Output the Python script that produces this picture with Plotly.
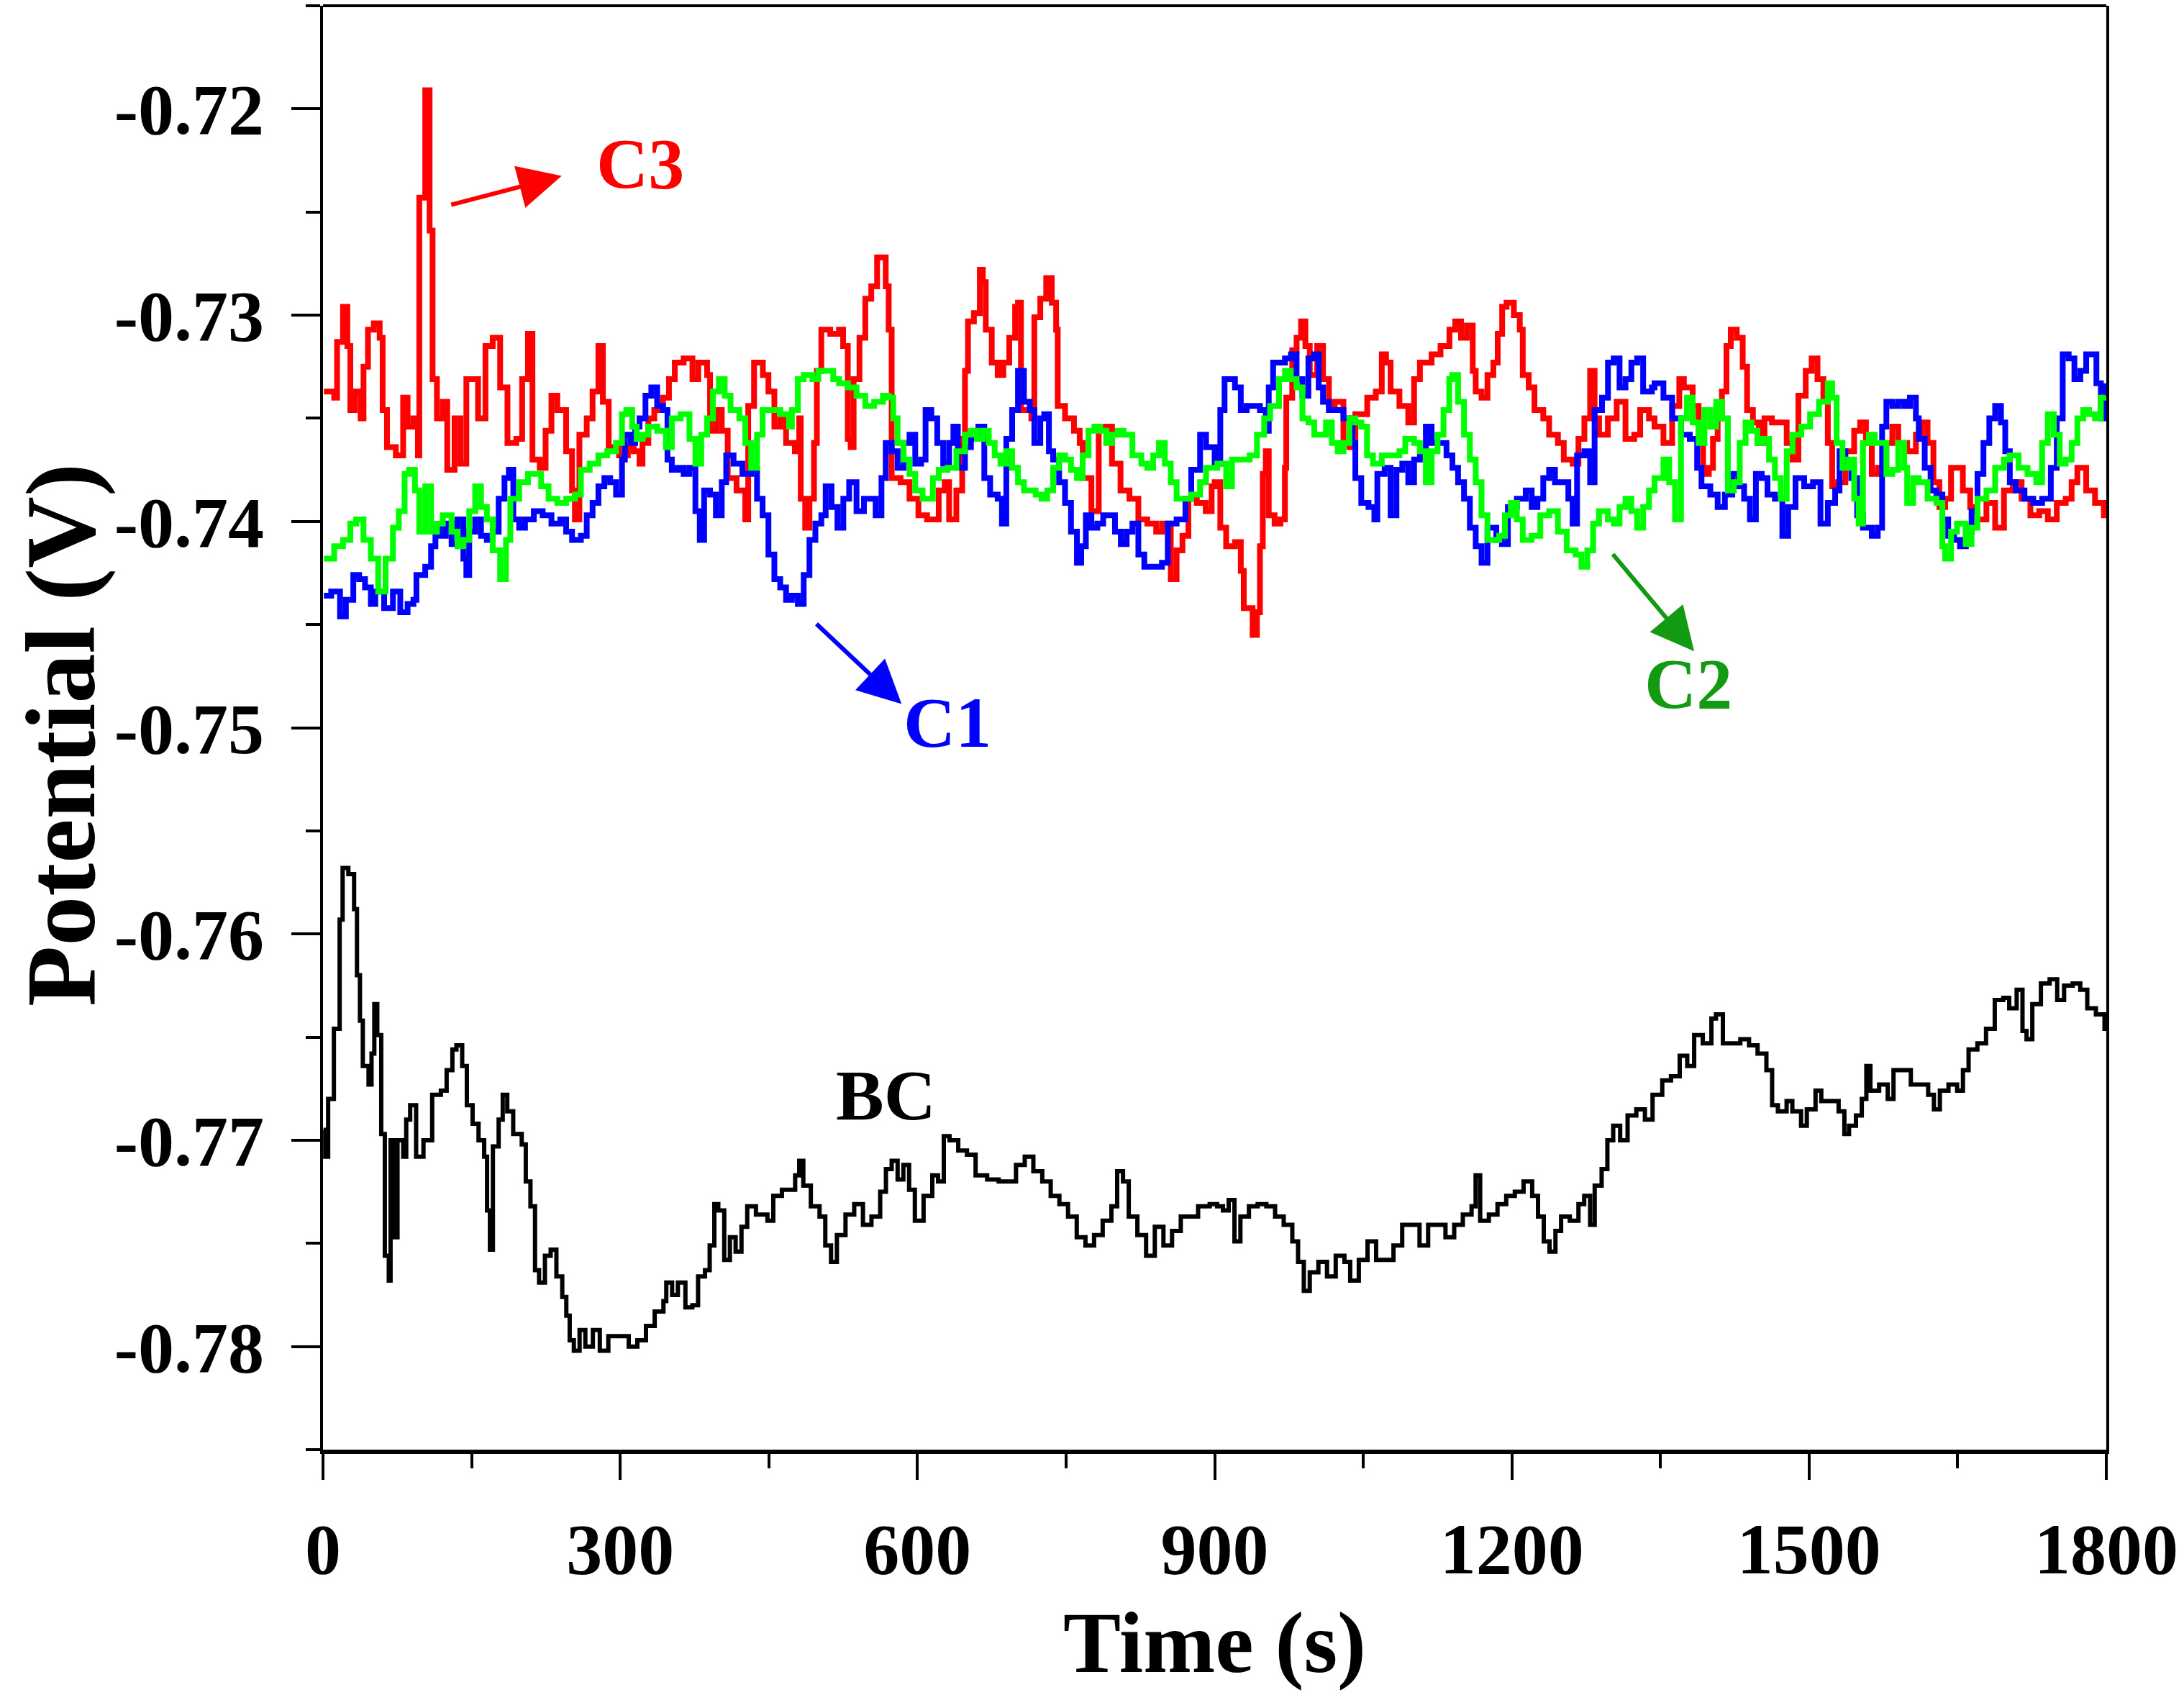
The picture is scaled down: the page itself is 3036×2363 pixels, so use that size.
import plotly.graph_objects as go

# ---------------- data ----------------
c3_t = [0.9,11.3,14.2,20.2,24.6,27.6,32.0,38.0,40.9,45.4,51.3,57.2,60.2,64.6,73.5,80.9,85.4,91.3,95.8,97.2,103.2,106.1,107.6,110.6,115.0,121.0,125.4,132.8,138.7,144.7,150.6,156.5,164.0,171.3,178.8,186.2,195.1,201.0,206.9,211.4,218.8,224.7,230.6,236.5,245.4,251.4,254.3,258.8,266.2,272.1,278.0,282.5,288.4,298.8,307.7,313.6,319.5,322.5,328.4,334.4,343.2,349.2,355.1,364.0,372.9,378.8,387.7,390.7,396.6,402.5,408.5,417.4,426.2,429.2,435.1,444.0,
        449.6,455.6,461.5,467.4,476.3,480.7,482.2,486.7,491.0,495.6,498.5,503.0,512.0,520.8,525.0,529.7,532.6,535.6,541.5,547.4,553.4,559.3,565.2,568.0,571.0,574.0,583.0,592.0,601.0,609.7,615.6,621.5,627.5,632.0,639.3,645.2,648.0,651.0,657.0,663.0,666.0,669.0,675.0,681.0,686.7,692.7,698.6,701.5,704.5,710.0,715.0,718.0,724.0,730.0,735.6,740.0,741.6,749.0,758.0,763.8,766.8,775.6,783.0,790.5,796.4,805.0,814.0,823.0,832.0,841.0,847.0,855.7,861.6,867.5,873.5,882.0,891.0,897.0,
        900.0,905.7,911.6,920.5,926.4,929.4,938.3,942.7,945.7,948.6,951.6,954.6,960.5,966.4,970.9,972.3,978.3,982.7,987.2,991.6,996.0,1003.5,1009.4,1015.3,1021.2,1030.0,1036.0,1042.0,1054.0,1062.7,1068.7,1073.0,1077.6,1086.5,1095.4,1101.3,1107.2,1119.0,1128.0,1137.0,1142.8,1148.7,1154.6,1160.5,1163.5,1169.4,1175.4,1181.3,1185.7,1190.2,1194.6,1202.0,1208.0,1211.0,1217.0,1222.8,1231.7,1237.6,1246.5,1252.4,1261.3,1267.2,1273.2,1279.0,1283.5,1288.0,1296.9,1305.8,1314.7,1323.5,1329.5,1338.4,
        1344.0,1353.0,1361.8,1369.0,1373.6,1382.5,1388.5,1393.0,1398.8,1403.0,1407.7,1412.0,1416.6,1421.0,1427.0,1433.0,1437.4,1443.3,1449.2,1455.0,1462.5,1471.4,1477.4,1483.3,1489.2,1496.6,1502.6,1508.5,1514.4,1518.9,1523.3,1529.2,1536.6,1545.5,1551.5,1557.4,1563.3,1569.3,1578.0,1584.0,1590.0,1599.0,1607.8,1613.7,1619.6,1625.5,1631.5,1637.4,1643.3,1649.3,1655.2,1662.6,1670.0,1679.0,1687.8,1696.7,1705.6,1714.5,1723.4,1732.3,1741.0,1750.0,1759.0,1765.0,1770.8,1779.7,1788.6,1797.5,1800.0]
c3_v = [-0.7337,-0.7340,-0.7313,-0.7296,-0.7315,-0.7346,-0.7337,-0.7350,-0.7325,-0.7307,-0.7304,-0.7311,-0.7346,-0.7364,-0.7368,-0.7340,-0.7354,-0.7350,-0.7368,-0.7243,-0.7191,-0.7191,-0.7259,-0.7331,-0.7350,-0.7342,-0.7375,-0.7350,-0.7372,-0.7331,-0.7331,-0.7350,-0.7315,-0.7311,-0.7335,-0.7362,-0.7360,-0.7331,-0.7309,-0.7370,-0.7374,-0.7356,-0.7339,-0.7346,-0.7366,-0.7385,-0.7399,-0.7358,-0.7350,-0.7337,-0.7315,-0.7342,-0.7364,-0.7368,-0.7364,-0.7366,-0.7372,-0.7362,-0.7350,-0.7346,-0.7340,-0.7331,-0.7323,-0.7321,-0.7331,-0.7323,-0.7329,-0.7356,-0.7346,-0.7356,-0.7379,-0.7385,-0.7399,-0.7344,-0.7323,-0.7329,
        -0.7337,-0.7354,-0.7350,-0.7362,-0.7366,-0.7350,-0.7389,-0.7403,-0.7389,-0.7362,-0.7327,-0.7307,-0.7309,-0.7307,-0.7315,-0.7360,-0.7364,-0.7331,-0.7311,-0.7292,-0.7286,-0.7272,-0.7272,-0.7286,-0.7307,-0.7379,-0.7381,-0.7389,-0.7397,-0.7399,-0.7399,-0.7385,-0.7381,-0.7399,-0.7385,-0.7360,-0.7327,-0.7303,-0.7299,-0.7278,-0.7284,-0.7307,-0.7323,-0.7329,-0.7323,-0.7311,-0.7296,-0.7294,-0.7346,-0.7346,-0.7350,-0.7301,-0.7292,-0.7282,-0.7294,-0.7307,-0.7344,-0.7350,-0.7356,-0.7362,-0.7379,-0.7395,-0.7354,-0.7354,-0.7372,-0.7385,-0.7389,-0.7399,-0.7401,-0.7405,-0.7401,-0.7428,-0.7414,-0.7407,-0.7389,-0.7391,-0.7395,-0.7383,
        -0.7381,-0.7403,-0.7412,-0.7410,-0.7424,-0.7442,-0.7455,-0.7444,-0.7412,-0.7377,-0.7366,-0.7397,-0.7401,-0.7399,-0.7374,-0.7340,-0.7317,-0.7311,-0.7303,-0.7315,-0.7329,-0.7315,-0.7331,-0.7344,-0.7342,-0.7362,-0.7364,-0.7348,-0.7340,-0.7337,-0.7319,-0.7323,-0.7337,-0.7344,-0.7352,-0.7331,-0.7323,-0.7319,-0.7315,-0.7307,-0.7303,-0.7311,-0.7305,-0.7327,-0.7337,-0.7340,-0.7329,-0.7323,-0.7309,-0.7296,-0.7294,-0.7300,-0.7307,-0.7329,-0.7335,-0.7346,-0.7350,-0.7358,-0.7362,-0.7370,-0.7372,-0.7360,-0.7350,-0.7327,-0.7350,-0.7358,-0.7350,-0.7342,-0.7360,-0.7358,-0.7346,-0.7350,
        -0.7354,-0.7362,-0.7344,-0.7331,-0.7335,-0.7344,-0.7360,-0.7377,-0.7374,-0.7360,-0.7350,-0.7337,-0.7315,-0.7307,-0.7311,-0.7325,-0.7346,-0.7352,-0.7362,-0.7350,-0.7352,-0.7352,-0.7362,-0.7370,-0.7339,-0.7327,-0.7321,-0.7331,-0.7340,-0.7362,-0.7383,-0.7381,-0.7366,-0.7356,-0.7352,-0.7362,-0.7377,-0.7374,-0.7362,-0.7354,-0.7362,-0.7366,-0.7358,-0.7352,-0.7362,-0.7381,-0.7393,-0.7389,-0.7374,-0.7374,-0.7385,-0.7393,-0.7399,-0.7391,-0.7403,-0.7385,-0.7381,-0.7389,-0.7397,-0.7395,-0.7399,-0.7391,-0.7389,-0.7381,-0.7374,-0.7385,-0.7391,-0.7397,-0.7395]

c1_t = [0.9,8.3,17.2,23.1,30.6,36.5,42.4,48.3,52.8,61.7,70.6,78.0,85.4,91.3,94.3,103.2,109.1,113.5,118.0,123.9,129.8,135.8,141.7,144.7,147.6,153.6,159.5,165.4,171.3,177.3,183.2,187.6,192.1,198.0,203.9,212.8,221.7,230.6,239.5,245.4,251.4,260.3,266.2,272.1,278.0,284.0,289.9,295.8,301.8,304.7,310.7,315.1,319.5,325.5,331.4,337.3,343.2,347.7,352.1,358.1,364.0,369.9,375.9,380.3,384.7,390.7,396.6,402.5,407.0,414.4,423.3,432.2,438.1,
        443.7,449.6,455.6,461.5,467.4,473.3,479.3,485.2,491.0,497.0,503.0,507.4,513.3,519.3,525.2,531.1,538.5,546.0,552.0,557.8,563.7,568.0,574.0,580.0,586.0,592.0,597.8,603.7,608.2,614.0,620.0,626.0,632.0,636.3,640.8,648.0,654.0,661.5,667.5,673.4,681.0,685.3,689.7,695.6,701.5,707.5,713.4,718.0,724.0,728.0,732.7,737.0,743.0,749.0,755.0,761.0,765.3,770.0,775.6,781.6,787.5,793.4,799.4,805.3,811.2,817.0,823.0,829.0,838.0,846.8,852.7,861.6,870.5,876.4,885.3,891.3,
        900.0,905.7,910.0,914.5,920.5,926.4,932.3,938.3,945.7,951.6,954.6,959.0,965.0,971.0,977.0,982.7,988.6,994.6,1000.5,1005.0,1009.4,1015.3,1021.2,1030.0,1039.0,1042.0,1048.0,1055.3,1061.2,1064.2,1071.6,1077.6,1083.5,1089.4,1095.4,1101.3,1107.2,1113.2,1119.0,1128.0,1134.0,1140.0,1145.7,1151.7,1157.6,1163.5,1169.4,1175.4,1184.3,1190.0,1196.0,1205.0,1214.0,1220.0,1225.8,1231.7,1237.6,1243.5,1252.4,1257.0,1261.3,1265.8,1273.2,1279.0,1283.5,1291.0,1297.0,1302.8,1308.7,1314.7,1320.6,1326.5,1332.5,1341.3,
        1344.0,1353.0,1361.8,1370.7,1379.6,1387.0,1391.4,1400.3,1407.7,1415.0,1422.5,1428.5,1434.4,1440.3,1446.3,1452.2,1458.0,1465.5,1473.0,1478.9,1486.3,1495.0,1504.0,1511.5,1518.9,1526.3,1530.7,1536.6,1542.6,1548.5,1554.4,1563.3,1569.3,1573.7,1578.0,1584.0,1590.0,1596.0,1601.8,1607.8,1610.7,1616.7,1622.6,1628.5,1634.5,1640.4,1646.3,1652.3,1658.2,1664.0,1670.0,1676.0,1681.9,1687.8,1693.7,1698.0,1702.6,1708.5,1717.4,1726.3,1735.2,1744.0,1750.0,1756.0,1762.0,1767.8,1773.8,1779.7,1785.6,1790.0,1794.5,1799.0]
c1_v = [-0.7436,-0.7434,-0.7446,-0.7438,-0.7426,-0.7428,-0.7432,-0.7440,-0.7434,-0.7442,-0.7434,-0.7444,-0.7440,-0.7438,-0.7426,-0.7422,-0.7412,-0.7403,-0.7407,-0.7401,-0.7411,-0.7399,-0.7418,-0.7426,-0.7405,-0.7399,-0.7407,-0.7409,-0.7405,-0.7389,-0.7379,-0.7375,-0.7399,-0.7403,-0.7399,-0.7395,-0.7397,-0.7401,-0.7399,-0.7405,-0.7409,-0.7407,-0.7397,-0.7391,-0.7383,-0.7379,-0.7381,-0.7387,-0.7370,-0.7358,-0.7362,-0.7354,-0.7350,-0.7339,-0.7335,-0.7344,-0.7346,-0.7370,-0.7375,-0.7374,-0.7377,-0.7374,-0.7395,-0.7409,-0.7385,-0.7387,-0.7397,-0.7381,-0.7368,-0.7372,-0.7377,-0.7375,-0.7389,
        -0.7397,-0.7416,-0.7428,-0.7432,-0.7438,-0.7436,-0.7440,-0.7426,-0.7409,-0.7401,-0.7397,-0.7383,-0.7393,-0.7403,-0.7389,-0.7381,-0.7395,-0.7389,-0.7389,-0.7397,-0.7379,-0.7362,-0.7366,-0.7374,-0.7362,-0.7358,-0.7372,-0.7370,-0.7346,-0.7350,-0.7362,-0.7372,-0.7362,-0.7354,-0.7374,-0.7364,-0.7360,-0.7354,-0.7379,-0.7387,-0.7389,-0.7401,-0.7360,-0.7346,-0.7327,-0.7342,-0.7346,-0.7362,-0.7350,-0.7348,-0.7366,-0.7370,-0.7381,-0.7391,-0.7405,-0.7420,-0.7412,-0.7397,-0.7403,-0.7401,-0.7397,-0.7397,-0.7405,-0.7411,-0.7405,-0.7401,-0.7416,-0.7422,-0.7422,-0.7420,-0.7401,-0.7399,-0.7389,-0.7375,-0.7358,-0.7364,
        -0.7372,-0.7346,-0.7331,-0.7331,-0.7335,-0.7346,-0.7344,-0.7344,-0.7346,-0.7356,-0.7335,-0.7323,-0.7323,-0.7321,-0.7319,-0.7331,-0.7339,-0.7321,-0.7319,-0.7335,-0.7342,-0.7346,-0.7346,-0.7350,-0.7362,-0.7379,-0.7391,-0.7393,-0.7399,-0.7377,-0.7374,-0.7397,-0.7375,-0.7372,-0.7381,-0.7370,-0.7366,-0.7354,-0.7362,-0.7362,-0.7368,-0.7374,-0.7381,-0.7389,-0.7403,-0.7412,-0.7420,-0.7403,-0.7409,-0.7411,-0.7393,-0.7389,-0.7385,-0.7393,-0.7389,-0.7379,-0.7375,-0.7381,-0.7381,-0.7389,-0.7401,-0.7368,-0.7366,-0.7381,-0.7346,-0.7340,-0.7323,-0.7321,-0.7335,-0.7331,-0.7323,-0.7321,-0.7337,-0.7335,
        -0.7333,-0.7340,-0.7350,-0.7358,-0.7360,-0.7374,-0.7383,-0.7387,-0.7393,-0.7387,-0.7377,-0.7383,-0.7389,-0.7399,-0.7377,-0.7379,-0.7387,-0.7389,-0.7407,-0.7393,-0.7379,-0.7383,-0.7381,-0.7401,-0.7391,-0.7385,-0.7366,-0.7374,-0.7379,-0.7397,-0.7403,-0.7407,-0.7403,-0.7354,-0.7342,-0.7344,-0.7342,-0.7344,-0.7340,-0.7350,-0.7360,-0.7374,-0.7385,-0.7387,-0.7399,-0.7407,-0.7409,-0.7412,-0.7405,-0.7395,-0.7377,-0.7362,-0.7350,-0.7344,-0.7352,-0.7366,-0.7381,-0.7385,-0.7389,-0.7391,-0.7389,-0.7374,-0.7350,-0.7319,-0.7321,-0.7331,-0.7327,-0.7319,-0.7319,-0.7333,-0.7350,-0.7333]

c2_t = [0.9,11.3,20.2,27.6,33.5,40.9,48.3,55.7,63.2,70.6,76.5,82.4,86.9,92.8,97.2,103.2,109.1,115.0,121.0,129.8,135.8,141.7,147.6,153.6,159.5,165.4,171.3,178.8,184.7,189.1,198.0,206.9,214.3,220.2,227.7,236.5,245.4,254.3,260.3,269.2,278.0,286.9,295.8,301.8,306.2,312.1,316.6,322.5,328.4,337.3,346.2,352.1,361.0,369.9,375.9,381.8,387.7,393.6,399.6,405.5,411.4,420.3,426.2,432.2,438.1,
        443.7,452.6,461.5,470.4,473.3,479.3,485.2,494.0,500.0,506.0,515.0,520.8,529.7,538.5,547.4,556.3,565.2,571.0,575.6,580.0,586.0,592.0,597.8,605.2,609.7,615.6,621.5,630.4,639.3,648.0,654.0,660.0,666.0,672.0,678.0,683.8,689.7,695.6,701.5,707.5,713.4,719.3,725.3,731.0,737.0,743.0,749.0,755.0,761.0,766.8,772.7,778.6,784.5,790.5,796.4,802.3,808.2,817.0,826.0,832.0,838.0,843.8,849.7,855.7,861.6,867.5,876.4,885.3,891.3,
        902.7,911.6,917.5,926.4,935.3,942.7,950.0,956.0,965.0,971.0,976.8,982.7,988.6,994.6,1000.5,1006.4,1012.4,1018.3,1024.2,1030.0,1036.0,1042.0,1048.0,1053.8,1059.8,1068.7,1077.6,1086.5,1092.4,1101.3,1107.2,1113.2,1119.0,1125.0,1131.0,1136.8,1139.8,1145.7,1151.7,1157.6,1163.5,1169.4,1175.4,1181.3,1187.2,1193.0,1199.0,1205.0,1211.0,1219.8,1228.7,1237.6,1246.5,1255.4,1264.3,1270.2,1276.2,1282.0,1288.0,1296.9,1302.8,1308.7,1314.7,1320.6,1326.5,1332.5,1338.4,
        1344.0,1353.0,1358.8,1364.7,1370.7,1376.6,1382.5,1388.5,1394.4,1400.3,1406.2,1412.0,1418.0,1424.0,1430.0,1435.9,1441.8,1447.7,1453.7,1459.6,1465.5,1471.4,1477.4,1483.3,1492.2,1501.0,1510.0,1518.9,1523.3,1527.8,1533.7,1539.6,1545.5,1550.0,1554.4,1560.4,1566.3,1572.2,1578.0,1584.0,1590.0,1596.0,1599.0,1605.0,1610.7,1619.6,1628.5,1634.5,1637.4,1643.3,1649.3,1658.2,1664.0,1670.0,1679.0,1687.8,1696.7,1702.6,1711.5,1720.4,1729.3,1735.2,1741.0,1747.0,1753.0,1759.0,1765.0,1770.8,1776.7,1782.6,1788.6,1794.5,1799.0]
c2_v = [-0.7418,-0.7412,-0.7409,-0.7401,-0.7399,-0.7409,-0.7418,-0.7434,-0.7418,-0.7403,-0.7395,-0.7377,-0.7375,-0.7385,-0.7405,-0.7383,-0.7405,-0.7401,-0.7397,-0.7405,-0.7412,-0.7409,-0.7395,-0.7383,-0.7393,-0.7399,-0.7414,-0.7428,-0.7409,-0.7389,-0.7381,-0.7377,-0.7377,-0.7383,-0.7389,-0.7391,-0.7389,-0.7387,-0.7375,-0.7372,-0.7368,-0.7366,-0.7362,-0.7348,-0.7346,-0.7354,-0.7360,-0.7358,-0.7354,-0.7356,-0.7364,-0.7350,-0.7348,-0.7360,-0.7372,-0.7358,-0.7350,-0.7337,-0.7331,-0.7339,-0.7346,-0.7350,-0.7362,-0.7374,-0.7358,
        -0.7346,-0.7346,-0.7348,-0.7354,-0.7346,-0.7331,-0.7329,-0.7331,-0.7327,-0.7327,-0.7331,-0.7333,-0.7335,-0.7339,-0.7344,-0.7342,-0.7339,-0.7340,-0.7350,-0.7362,-0.7370,-0.7377,-0.7385,-0.7389,-0.7389,-0.7379,-0.7375,-0.7374,-0.7366,-0.7358,-0.7356,-0.7360,-0.7356,-0.7362,-0.7368,-0.7372,-0.7366,-0.7374,-0.7381,-0.7385,-0.7385,-0.7387,-0.7389,-0.7385,-0.7374,-0.7368,-0.7370,-0.7375,-0.7379,-0.7368,-0.7356,-0.7354,-0.7356,-0.7362,-0.7358,-0.7356,-0.7358,-0.7368,-0.7372,-0.7374,-0.7368,-0.7362,-0.7372,-0.7381,-0.7389,-0.7389,-0.7387,-0.7381,-0.7374,
        -0.7372,-0.7383,-0.7370,-0.7370,-0.7368,-0.7358,-0.7350,-0.7344,-0.7331,-0.7327,-0.7331,-0.7335,-0.7350,-0.7352,-0.7358,-0.7358,-0.7352,-0.7362,-0.7366,-0.7362,-0.7350,-0.7352,-0.7354,-0.7368,-0.7372,-0.7368,-0.7368,-0.7366,-0.7360,-0.7362,-0.7366,-0.7381,-0.7366,-0.7358,-0.7346,-0.7331,-0.7329,-0.7342,-0.7358,-0.7370,-0.7381,-0.7397,-0.7409,-0.7409,-0.7407,-0.7397,-0.7391,-0.7399,-0.7409,-0.7407,-0.7397,-0.7395,-0.7405,-0.7414,-0.7416,-0.7422,-0.7414,-0.7401,-0.7395,-0.7399,-0.7401,-0.7393,-0.7389,-0.7395,-0.7403,-0.7393,-0.7385,
        -0.7379,-0.7370,-0.7381,-0.7399,-0.7350,-0.7340,-0.7352,-0.7362,-0.7346,-0.7354,-0.7342,-0.7350,-0.7385,-0.7381,-0.7362,-0.7352,-0.7356,-0.7362,-0.7360,-0.7370,-0.7379,-0.7389,-0.7366,-0.7358,-0.7354,-0.7348,-0.7342,-0.7333,-0.7340,-0.7362,-0.7374,-0.7370,-0.7389,-0.7401,-0.7362,-0.7358,-0.7362,-0.7362,-0.7377,-0.7375,-0.7362,-0.7374,-0.7391,-0.7379,-0.7381,-0.7389,-0.7391,-0.7412,-0.7418,-0.7405,-0.7401,-0.7411,-0.7403,-0.7389,-0.7385,-0.7374,-0.7370,-0.7368,-0.7374,-0.7377,-0.7381,-0.7362,-0.7348,-0.7358,-0.7372,-0.7370,-0.7362,-0.7350,-0.7346,-0.7348,-0.7350,-0.7340,-0.7339]

bc_t = [0.5,2.3,5.2,11.0,16.8,19.8,25.6,31.4,34.3,37.3,40.2,46.0,49.0,51.8,54.8,58.8,62.4,66.4,68.2,72.3,75.2,81.0,84.0,88.0,94.0,101.4,110.2,119.0,124.8,130.6,134.7,140.5,145.2,151.0,157.0,162.7,165.6,168.5,171.5,177.3,181.4,186.0,192.0,200.6,204.7,209.4,214.0,218.1,224.0,229.8,235.6,241.5,245.6,249.0,253.2,259.0,264.8,272.4,279.4,288.0,297.0,308.6,317.3,326.0,334.8,343.6,346.5,352.4,358.2,365.8,372.8,378.6,385.6,390.3,395.0,399.0,405.0,410.7,416.5,422.4,428.2,437.0,445.7,448.6,454.5,463.2,470.8,476.6,480.7,484.8,492.4,501.2,507.0,512.8,518.7,527.4,536.2,545.0,553.6,562.4,568.2,574.0,580.0,585.8,591.6,597.4,606.2,615.0,620.8,626.6,632.4,641.2,650.0,658.7,670.4,682.0,690.8,699.5,708.3,717.0,726.0,734.5,743.3,752.0,760.8,769.6,778.3,787.0,795.8,801.6,807.5,813.3,822.0,830.8,839.6,848.3,857.0,865.8,874.6,883.3,895.0,
        902.5,908.4,914.2,920.0,926.0,934.6,943.4,952.2,961.0,969.7,978.4,984.2,990.0,996.0,1004.7,1013.4,1022.2,1031.0,1036.8,1045.5,1054.3,1063.0,1071.8,1080.5,1089.3,1098.0,1106.8,1115.5,1124.3,1133.0,1141.8,1150.5,1159.3,1163.4,1168.0,1176.8,1185.5,1194.3,1203.0,1211.8,1220.5,1226.4,1232.2,1238.0,1244.0,1249.7,1258.5,1267.2,1273.0,1279.0,1283.6,1290.6,1296.4,1302.3,1309.3,1316.8,1325.6,1334.3,1342.0,1351.8,1360.6,1369.4,1377.0,1384.0,1392.7,1401.4,1406.0,1413.0,1421.9,1430.6,1439.4,1448.0,1456.9,1462.7,1468.5,1477.3,1483.1,1491.9,1497.7,1506.5,1512.3,1521.0,1529.8,1535.6,1540.3,1547.3,1553.2,1557.8,1561.9,1570.7,1579.4,1585.2,1594.0,1602.7,1611.5,1620.2,1626.0,1632.0,1640.7,1649.4,1655.3,1661.0,1669.9,1678.6,1687.4,1696.0,1702.0,1709.5,1715.4,1719.5,1725.3,1734.0,1742.8,1750.4,1757.4,1766.1,1773.7,1780.8,1789.5,1798.2]
bc_v = [-0.7695,-0.7708,-0.7680,-0.7646,-0.7593,-0.7568,-0.7571,-0.7588,-0.7620,-0.7642,-0.7664,-0.7673,-0.7658,-0.7634,-0.7649,-0.7697,-0.7756,-0.7768,-0.7700,-0.7747,-0.7700,-0.7708,-0.7690,-0.7683,-0.7708,-0.7700,-0.7678,-0.7676,-0.7666,-0.7656,-0.7654,-0.7664,-0.7683,-0.7692,-0.7700,-0.7708,-0.7734,-0.7753,-0.7703,-0.7690,-0.7678,-0.7686,-0.7697,-0.7702,-0.7720,-0.7732,-0.7763,-0.7769,-0.7756,-0.7753,-0.7766,-0.7776,-0.7785,-0.7797,-0.7802,-0.7792,-0.7800,-0.7792,-0.7802,-0.7795,-0.7795,-0.7800,-0.7797,-0.7790,-0.7783,-0.7778,-0.7769,-0.7775,-0.7769,-0.7781,-0.7780,-0.7766,-0.7763,-0.7751,-0.7731,-0.7734,-0.7758,-0.7747,-0.7754,-0.7742,-0.7732,-0.7736,-0.7736,-0.7739,-0.7727,-0.7724,-0.7724,-0.7717,-0.7710,-0.7722,-0.7732,-0.7737,-0.7751,-0.7759,-0.7746,-0.7736,-0.7731,-0.7741,-0.7737,-0.7725,-0.7714,-0.7710,-0.7719,-0.7712,-0.7724,-0.7739,-0.7727,-0.7717,-0.7720,-0.7698,-0.7700,-0.7705,-0.7707,-0.7717,-0.7719,-0.7720,-0.7720,-0.7712,-0.7708,-0.7715,-0.7720,-0.7727,-0.7731,-0.7737,-0.7747,-0.7751,-0.7746,-0.7739,-0.7732,-0.7715,-0.7720,-0.7737,-0.7746,-0.7756,-0.7742,-0.7751,-0.7744,-0.7737,-0.7737,-0.7732,-0.7731,
        -0.7732,-0.7734,-0.7729,-0.7749,-0.7737,-0.7732,-0.7731,-0.7732,-0.7737,-0.7741,-0.7749,-0.7759,-0.7773,-0.7764,-0.7759,-0.7766,-0.7756,-0.7759,-0.7768,-0.7758,-0.7749,-0.7758,-0.7758,-0.7751,-0.7741,-0.7741,-0.7751,-0.7741,-0.7741,-0.7747,-0.7741,-0.7736,-0.7732,-0.7717,-0.7739,-0.7736,-0.7731,-0.7727,-0.7725,-0.7720,-0.7727,-0.7737,-0.7749,-0.7754,-0.7744,-0.7737,-0.7739,-0.7731,-0.7727,-0.7741,-0.7722,-0.7714,-0.7700,-0.7693,-0.7700,-0.7688,-0.7685,-0.7690,-0.7678,-0.7671,-0.7669,-0.7659,-0.7664,-0.7649,-0.7653,-0.7641,-0.7639,-0.7653,-0.7653,-0.7651,-0.7654,-0.7658,-0.7666,-0.7683,-0.7686,-0.7681,-0.7686,-0.7693,-0.7685,-0.7676,-0.7681,-0.7681,-0.7686,-0.7697,-0.7693,-0.7688,-0.7680,-0.7664,-0.7676,-0.7673,-0.7680,-0.7666,-0.7666,-0.7673,-0.7673,-0.7678,-0.7685,-0.7676,-0.7673,-0.7676,-0.7666,-0.7656,-0.7653,-0.7646,-0.7632,-0.7631,-0.7636,-0.7627,-0.7647,-0.7651,-0.7634,-0.7624,-0.7622,-0.7632,-0.7625,-0.7624,-0.7627,-0.7636,-0.7639,-0.7647]

x_tickvals = [0, 300, 600, 900, 1200, 1500, 1800]
x_ticktext = ["0", "300", "600", "900", "1200", "1500", "1800"]
y_tickvals = [-0.78, -0.77, -0.76, -0.75, -0.74, -0.73, -0.72]
y_ticktext = ["-0.78", "-0.77", "-0.76", "-0.75", "-0.74", "-0.73", "-0.72"]

FONT = "Liberation Serif"

fig = go.Figure()
fig.add_trace(go.Scatter(x=bc_t, y=bc_v, mode="lines", name="BC",
                         line=dict(color="#000000", width=6, shape="hv")))
fig.add_trace(go.Scatter(x=c3_t, y=c3_v, mode="lines", name="C3",
                         line=dict(color="#ff0000", width=8, shape="hv")))
fig.add_trace(go.Scatter(x=c1_t, y=c1_v, mode="lines", name="C1",
                         line=dict(color="#0000ff", width=8, shape="hv")))
fig.add_trace(go.Scatter(x=c2_t, y=c2_v, mode="lines", name="C2",
                         line=dict(color="#00ff00", width=8, shape="hv")))

def label(text, x, y, color):
    fig.add_annotation(x=x, y=y, xref="x", yref="y", text=text, showarrow=False,
                       font=dict(family=FONT, size=100, color=color, weight="bold"),
                       xanchor="center", yanchor="middle")

def arrow(x0, y0, x1, y1, color):
    fig.add_annotation(x=x1, y=y1, ax=x0, ay=y0, xref="x", yref="y", axref="x", ayref="y",
                       text="", showarrow=True, arrowhead=2, arrowsize=2.0, arrowwidth=6,
                       arrowcolor=color, standoff=0, startstandoff=0)

label("C3", 320, -0.72267, "#ff0000")
label("C1", 630, -0.74974, "#0000ff")
label("C2", 1378, -0.74786, "#139a13")
label("BC", 568, -0.76781, "#000000")
arrow(128.3, -0.72466, 240.9, -0.72325, "#ff0000")
arrow(497, -0.74492, 584, -0.74885, "#0000ff")
arrow(1301, -0.74154, 1384, -0.74629, "#139a13")

# axis titles
fig.add_annotation(x=0.5, y=-0.134, xref="paper", yref="paper", text="Time (s)", showarrow=False,
                   font=dict(family=FONT, size=120, color="black", weight="bold"),
                   xanchor="center", yanchor="middle")
fig.add_annotation(x=-0.147, y=0.495, xref="paper", yref="paper", text="Potential (V)", showarrow=False,
                   textangle=-90,
                   font=dict(family=FONT, size=138, color="black", weight="bold"),
                   xanchor="center", yanchor="middle")

# top border
fig.add_shape(type="line", xref="paper", yref="paper", x0=0, x1=1, y0=1, y1=1,
              line=dict(color="black", width=4))

fig.update_layout(
    width=3036, height=2363,
    margin=dict(l=449, r=108, t=8, b=348),
    paper_bgcolor="white", plot_bgcolor="white",
    showlegend=False,
    xaxis=dict(range=[0, 1800], showgrid=False, zeroline=False,
               showline=True, linecolor="black", linewidth=6, mirror=False,
               ticks="outside", ticklen=36, tickwidth=4, tickcolor="black",
               tickmode="array", tickvals=x_tickvals, ticktext=x_ticktext,
               tickfont=dict(family=FONT, size=100, color="black", weight="bold"),
               ticklabelstandoff=10,
               minor=dict(ticks="outside", ticklen=20, tickwidth=4, tickcolor="black",
                          tickmode="linear", tick0=0, dtick=150, showgrid=False)),
    yaxis=dict(range=[-0.785, -0.715], showgrid=False, zeroline=False,
               showline=True, linecolor="black", linewidth=4, mirror=True,
               ticks="outside", ticklen=40, tickwidth=4, tickcolor="black",
               tickmode="array", tickvals=y_tickvals, ticktext=y_ticktext,
               tickfont=dict(family=FONT, size=100, color="black", weight="bold"),
               ticklabelstandoff=18,
               minor=dict(ticks="outside", ticklen=20, tickwidth=4, tickcolor="black",
                          tickmode="linear", tick0=-0.78, dtick=0.005, showgrid=False)),
)

fig.write_html("out.html")
